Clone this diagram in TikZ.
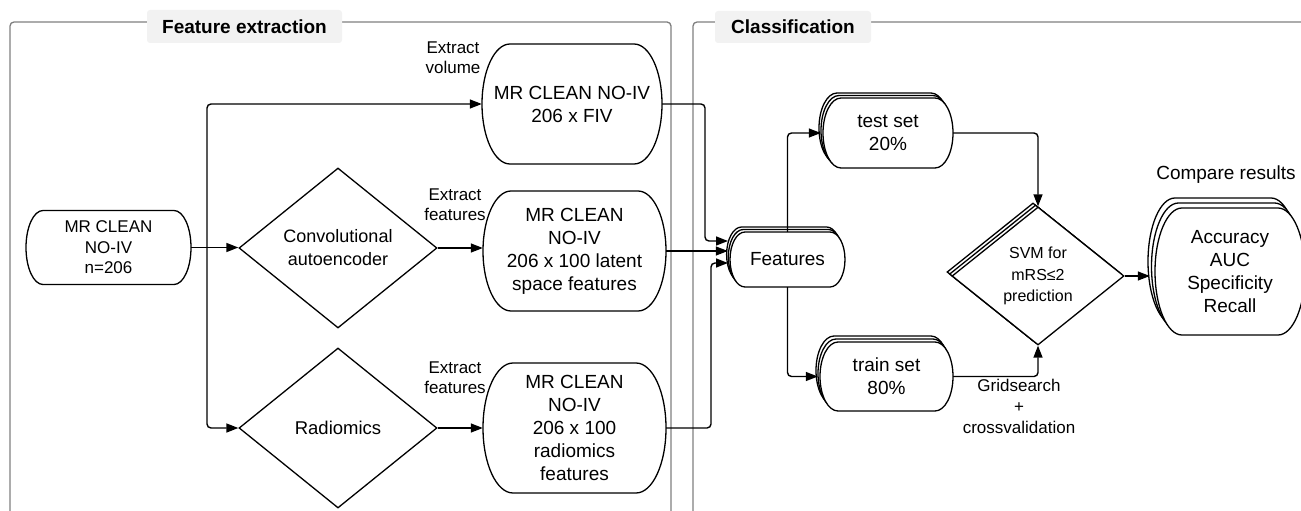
\documentclass[tikz,border=0pt]{standalone}
\usepackage{fontspec}
\setmainfont{Liberation Sans}
\usetikzlibrary{arrows.meta,shapes.geometric}
\definecolor{tabgray}{HTML}{F2F2F2}
\definecolor{framegray}{HTML}{7F7F7F}
\newcommand\tout[6][]{%
  \path[outl,#1] (#2-#4/2+#6,#3+#5/2) -- (#2+#4/2-#6,#3+#5/2)
    arc[start angle=90,end angle=-90,x radius=#6,y radius=#5/2]
    -- (#2-#4/2+#6,#3-#5/2)
    arc[start angle=270,end angle=90,x radius=#6,y radius=#5/2] -- cycle;}
\tikzset{
  conn/.style={line width=1.4pt, rounded corners=4pt, -{Triangle[length=12pt,width=9pt]}},
  outl/.style={draw, line width=1.3pt, fill=white},
  frame/.style={draw=framegray, line width=1.3pt, rounded corners=4pt},
  tab/.style={fill=tabgray, rounded corners=3pt, inner sep=0, font=\fontsize{19}{23}\selectfont\bfseries},
  lbl/.style={font=\fontsize{17}{20}\selectfont, align=center, inner sep=0},
  boxtxt/.style={rectangle, inner sep=0, align=center, font=\fontsize{19}{23}\selectfont},
  diam/.style={diamond, draw, line width=1.3pt, fill=white, inner sep=0, align=center},
}
\begin{document}
\begin{tikzpicture}[x=1pt,y=1pt]
\useasboundingbox (0,0) rectangle (1301,-511);
% frames
\draw[frame] (10,-515) -- (10,-22) -- (671,-22) -- (671,-515);
\draw[frame] (693,-515) -- (693,-22) -- (1310,-22);
\node[tab, minimum width=195, minimum height=33] (t1) at (244.5,-26.5) {Feature extraction};
\node[tab, minimum width=156, minimum height=32] (t2) at (793,-27) {Classification};
% terminator outlines
\tout{108.5}{-247.5}{165}{74}{17}
\tout{572}{-104}{180}{120}{28}
\tout{574.5}{-251}{183}{120}{28}
\tout{574.5}{-428}{183}{130}{30}
\foreach \k in {2,1,0}{
  \tout[shift={(-1.7*\k,2.5*\k)}]{787.5}{-259.5}{115}{55}{15}
  \tout[shift={(-2*\k,2.5*\k)}]{888}{-133}{130}{70}{18}
  \tout[shift={(-2*\k,3*\k)}]{886.5}{-376.5}{133}{69}{18}
  \tout[shift={(-3.5*\k,5*\k)}]{1230}{-271.5}{150}{127}{27}
}
% text nodes
\node[boxtxt, font=\fontsize{17}{20.5}\selectfont, minimum width=165, minimum height=74] (start) at (108.5,-247.5) {MR CLEAN\\NO-IV\\n=206};
\node[boxtxt, minimum width=180, minimum height=120] (fiv) at (572,-104) {MR CLEAN NO-IV\\206 x FIV};
\node[boxtxt, minimum width=183, minimum height=120] (lat) at (574.5,-251) {MR CLEAN\\NO-IV\\206 x 100 latent\\space features};
\node[boxtxt, minimum width=183, minimum height=130] (rad) at (574.5,-428) {MR CLEAN\\NO-IV\\206 x 100\\radiomics\\features};
\node[boxtxt, minimum width=115, minimum height=55] (feat) at (787.5,-259.5) {Features};
\node[boxtxt, minimum width=130, minimum height=70] (test) at (888,-133) {test set\\20\%};
\node[boxtxt, minimum width=133, minimum height=69] (train) at (886.5,-376.5) {train set\\80\%};
\node[boxtxt, minimum width=150, minimum height=127] (acc) at (1230,-271.5) {Accuracy\\AUC\\Specificity\\Recall};
% diamonds
\node[diam, font=\fontsize{18}{23}\selectfont, minimum width=198, minimum height=160] (conv) at (338,-248) {Convolutional\\autoencoder};
\node[diam, font=\fontsize{18.5}{23}\selectfont, minimum width=198, minimum height=160] (radi) at (338,-428) {Radiomics};
\node[diam, minimum width=172, minimum height=138] (svm2) at (1033,-272) {};
\node[diam, minimum width=172, minimum height=138] (svm1) at (1035.5,-274) {};
\node[diam, font=\fontsize{16}{21.5}\selectfont, minimum width=172, minimum height=138] (svm) at (1038,-276) {SVM for\\mRS≤2\\prediction};
% labels
\node[lbl] (l1) at (453,-58) {Extract\\volume};
\node[lbl] (l2) at (455,-205) {Extract\\features};
\node[lbl] (l3) at (455,-378) {Extract\\features};
\node[lbl, font=\fontsize{17}{21}\selectfont] (l4) at (1019,-406) {Gridsearch\\+\\crossvalidation};
\node[boxtxt] (cmp) at (1226,-175) {Compare results};
% connectors
\coordinate (j) at (207,-247.5);
\coordinate (ta) at (728,-241);
\coordinate (tb) at (728,-263);
\draw[conn] (start.east) -- (conv.west |- start.east);
\draw[conn] (j) |- (fiv.west);
\draw[conn] (j) |- (radi.west);
\draw[conn] (conv.east) -- (conv.east -| lat.west);
\draw[conn] (radi.east) -- (rad.west);
\draw[conn] (fiv.east) -| ([xshift=-23pt]ta) -- (ta);
\draw[conn] (lat.east) -- ([xshift=-2pt]lat.east -| feat.west);
\draw[conn] (rad.east) -| ([xshift=-17pt]tb) -- (tb);
\draw[conn] (feat.north) |- ([xshift=-2pt]test.west);
\draw[conn] (feat.south) |- ([xshift=-2pt]train.west);
\draw[conn] (test.east) -| (svm.north);
\draw[conn] (train.east) -| (svm.south);
\draw[conn] (svm.east) -- ([xshift=-5pt]svm.east -| acc.west);
\end{tikzpicture}
\end{document}
